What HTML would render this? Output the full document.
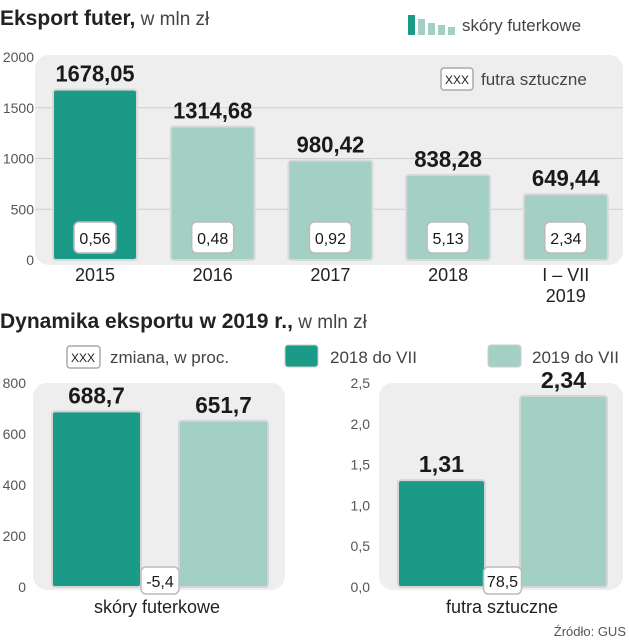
<!DOCTYPE html>
<html><head><meta charset="utf-8"><style>
html,body{margin:0;padding:0;background:#fff;}
svg{display:block;font-family:"Liberation Sans",sans-serif;}
</style></head><body>
<svg id="c" width="629" height="640" viewBox="0 0 629 640">
<text x="0" y="25" font-size="21" fill="#222"><tspan font-weight="bold">Eksport futer,</tspan><tspan font-size="19" fill="#444"> w mln zł</tspan></text>
<g>
<rect x="408" y="15" width="7" height="20" fill="#1a9a87"/><rect x="418" y="19" width="7" height="16" fill="#a3cfc4"/><rect x="428" y="23" width="7" height="12" fill="#a3cfc4"/><rect x="438" y="25" width="7" height="10" fill="#a3cfc4"/><rect x="448" y="27" width="7" height="8" fill="#a3cfc4"/>
<text x="462" y="31" font-size="17" fill="#444">skóry futerkowe</text></g>
<rect x="35" y="55" width="588" height="210" rx="14" fill="#eeeeee"/>
<g><rect x="441" y="68" width="32" height="22" rx="3" fill="#fff" stroke="#aaa" stroke-width="1.5"/><text x="457" y="84" font-size="12" text-anchor="middle" fill="#222">XXX</text><text x="481" y="85" font-size="17" fill="#444">futra sztuczne</text></g>
<g id="topchart"></g>
<text x="0" y="328" font-size="21" fill="#222"><tspan font-weight="bold">Dynamika eksportu w 2019 r.,</tspan><tspan font-size="19" fill="#444"> w mln zł</tspan></text>
<g>
<rect x="67" y="346" width="33" height="22" rx="3" fill="#fff" stroke="#aaa" stroke-width="1.5"/><text x="83" y="362" font-size="12" text-anchor="middle" fill="#222">XXX</text>
<text x="110" y="363" font-size="17" fill="#444">zmiana, w proc.</text>
<rect x="285" y="345" width="33" height="22" rx="3" fill="#1a9a87" stroke="#ccc"/>
<text x="330" y="363" font-size="17" fill="#444">2018 do VII</text>
<rect x="488" y="345" width="33" height="22" rx="3" fill="#a3cfc4" stroke="#ccc"/>
<text x="532" y="363" font-size="17" fill="#444">2019 do VII</text></g>
<rect x="33" y="383" width="252" height="207" rx="14" fill="#eeeeee"/>
<rect x="379" y="383" width="244" height="207" rx="14" fill="#eeeeee"/>
<g id="botchart"></g>
<text x="626" y="636" font-size="13" text-anchor="end" fill="#555">Źródło: GUS</text>
</svg>
<script>
const years = ["2015","2016","2017","2018","I – VII|2019"];
const skory = [1678.05,1314.68,980.42,838.28,649.44];
const futra = [0.56,0.48,0.92,5.13,2.34];
const topTicks = [0,500,1000,1500,2000];
const leftCats = ["2018 do VII","2019 do VII"];
const skory2019 = [688.7,651.7];
const futra2019 = [1.31,2.34];
const skoryChange = -5.4;
const futraChange = 78.5;
const leftTicks = [0,200,400,600,800];
const rightTicks = [0,0.5,1,1.5,2,2.5];

const NS="http://www.w3.org/2000/svg";
function mk(tag,attrs,parent,txt){const e=document.createElementNS(NS,tag);for(const k in attrs)e.setAttribute(k,attrs[k]);if(txt!==undefined)e.textContent=txt;parent.appendChild(e);return e;}
const fmt=(v,d)=>v.toFixed(d).replace('.',',');
const DARK="#1a9a87",LIGHT="#a3cfc4";

const topG=document.getElementById('topchart');
const ty=v=>260-v*(203/2000);
const tx=i=>53+i*117.7;
topTicks.forEach(t=>{
  if(t>0&&t<2000){const l=mk('line',{x1:35,x2:623,y1:ty(t),y2:ty(t),stroke:"#cfcfcf","stroke-width":1},topG);
  
  }
  const tt=mk('text',{x:34,y:ty(t)+5,"font-size":14,"text-anchor":"end",fill:"#555"},topG,String(t));
  
  
});
skory.forEach((v,i)=>{
  const x=tx(i),w=84;
  const b=mk('rect',{x:x,y:ty(v),width:w,height:260-ty(v),rx:3,fill:i==0?DARK:LIGHT,stroke:"#d9d9d9","stroke-width":2},topG);
  
  
  const s=fmt(v,2);
  const vl=mk('text',{x:x+w/2,y:ty(v)-8,"font-size":23,"font-weight":"bold","text-anchor":"middle",fill:"#1a1a1a",textLength:s.length*11.3,lengthAdjust:"spacingAndGlyphs"},topG,s);
  
  
  const bx=mk('rect',{x:x+w/2-21,y:222,width:42,height:31,rx:5,fill:"#fff",stroke:"#bbb","stroke-width":1.5},topG);
  
  
  const ft=mk('text',{x:x+w/2,y:244,"font-size":16,"text-anchor":"middle",fill:"#1a1a1a"},topG,fmt(futra[i],2));
  
  
  const parts=years[i].split('|');
  parts.forEach((p,j)=>{const c=mk('text',{x:x+w/2,y:281+j*21,"font-size":18,"text-anchor":"middle",fill:"#222"},topG,p);
  
  });
});

const botG=document.getElementById('botchart');
function pair(vals,max,ticks,dec,tickX,bx,change,cat,catX,tickDec){
  const y=v=>587-v*(204/max);
  ticks.forEach(t=>{const tt=mk('text',{x:tickX,y:y(t)+5,"font-size":14,"text-anchor":"end",fill:"#555"},botG,tickDec?fmt(t,1):String(t));
  
  });
  vals.forEach((v,i)=>{
    const b=mk('rect',{x:bx[i],y:y(v),width:bx[2],height:587-y(v),rx:3,fill:i==0?DARK:LIGHT,stroke:"#d5d5d5","stroke-width":2},botG);
    
    
    const s=fmt(v,dec);
    const t=mk('text',{x:bx[i]+bx[2]/2,y:y(v)-8,"font-size":23,"font-weight":"bold","text-anchor":"middle",fill:"#1a1a1a",textLength:s.length*11.3,lengthAdjust:"spacingAndGlyphs"},botG,s);
    
    
  });
  const cx=(bx[0]+bx[2]+bx[1])/2;
  const r=mk('rect',{x:cx-19,y:567,width:38,height:27,rx:5,fill:"#fff",stroke:"#bbb","stroke-width":1.5},botG);
  
  
  const ct=mk('text',{x:cx,y:587,"font-size":16,"text-anchor":"middle",fill:"#1a1a1a"},botG,fmt(change,1));
  
  
  const c=mk('text',{x:catX,y:613,"font-size":18,"text-anchor":"middle",fill:"#222"},botG,cat);
  
  
}
pair(skory2019,800,leftTicks,1,26,[52,179,89],skoryChange,"skóry futerkowe",157,false);
pair(futra2019,2.5,rightTicks,2,370,[398,520,87],futraChange,"futra sztuczne",502,true);
</script>
</body></html>
